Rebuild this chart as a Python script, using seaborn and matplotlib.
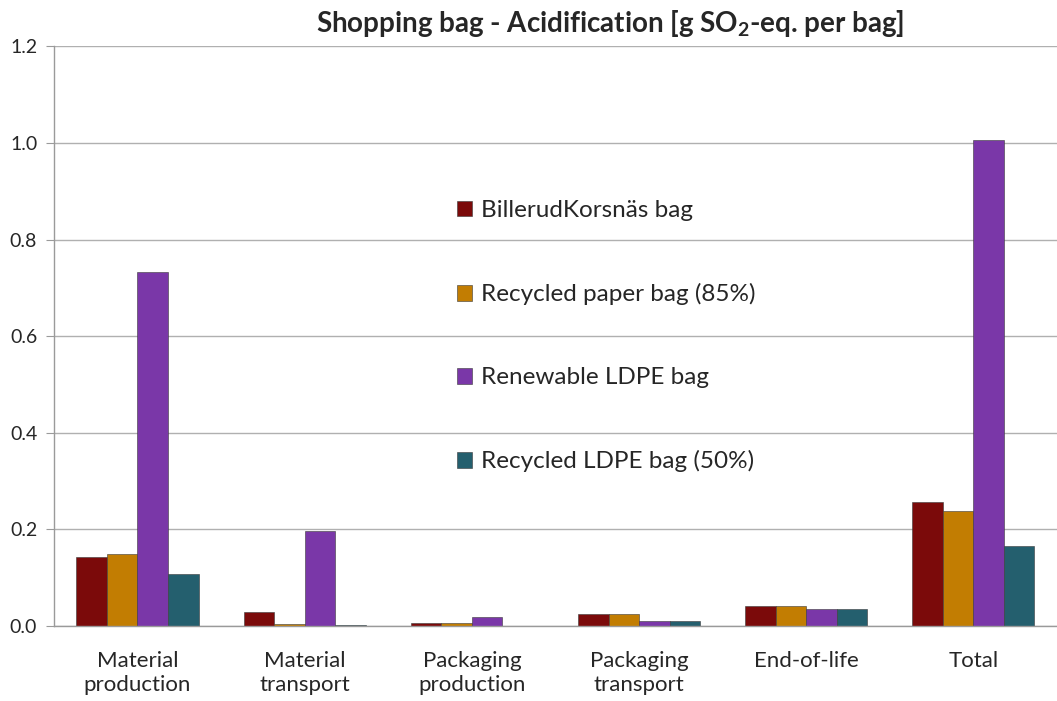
import pandas as pd
import numpy as np
import matplotlib
matplotlib.use("Agg")
import matplotlib.pyplot as plt
import seaborn as sns

stages = ["Material\nproduction", "Material\ntransport", "Packaging\nproduction",
          "Packaging\ntransport", "End-of-life", "Total"]
bags = ["BillerudKorsnäs bag", "Recycled paper bag (85%)",
        "Renewable LDPE bag", "Recycled LDPE bag (50%)"]

billerud = [0.143, 0.028, 0.006, 0.025, 0.041, 0.257]
recycled_paper = [0.148, 0.004, 0.006, 0.025, 0.041, 0.237]
renewable_ldpe = [0.733, 0.196, 0.018, 0.010, 0.035, 1.005]
recycled_ldpe = [0.108, 0.002, 0.0, 0.010, 0.035, 0.166]

colors = ["#7B0A0A", "#C27D02", "#7A37A8", "#245F6E"]

df = pd.DataFrame({
    "Stage": stages * 4,
    "Bag": np.repeat(bags, len(stages)),
    "Value": billerud + recycled_paper + renewable_ldpe + recycled_ldpe,
})

sns.set_style("white")
plt.rcParams["font.family"] = ["Lato", "DejaVu Sans"]
plt.rcParams["mathtext.default"] = "regular"

fig = plt.figure(figsize=(10.57, 7.01), dpi=100)
ax = fig.add_axes([0.051, 0.107, 0.949, 0.827])

sns.barplot(data=df, x="Stage", y="Value", hue="Bag", palette=colors,
            width=0.73, gap=0, edgecolor="#3a3a3a", linewidth=0.4,
            saturation=1, ax=ax)

ax.set_ylim(0, 1.2)
ax.set_xlim(-0.5, 5.5)
ax.set_yticks(np.arange(0, 1.21, 0.2))
ax.set_yticklabels([f"{v:.1f}" for v in np.arange(0, 1.21, 0.2)], fontsize=14)
ax.yaxis.grid(True, color="#b0b0b0", linewidth=1)
ax.set_axisbelow(True)
ax.set_xlabel("")
ax.set_ylabel("")
ax.tick_params(axis="x", which="major", length=0, labelsize=16, pad=18)
for lbl in ax.get_xticklabels():
    lbl.set_linespacing(1.25)
ax.set_xticks(np.arange(-0.5, 5.6, 1), minor=True)
ax.tick_params(axis="x", which="minor", length=7, color="#9a9a9a", direction="out")
ax.tick_params(axis="y", length=6, color="#9a9a9a", direction="out", left=True, pad=6)

for side in ["top", "right"]:
    ax.spines[side].set_visible(False)
for side in ["left", "bottom"]:
    ax.spines[side].set_color("#9a9a9a")
    ax.spines[side].set_linewidth(1)

leg = ax.legend(loc="upper left", bbox_to_anchor=(0.38, 0.772), frameon=False,
                fontsize=17.5, handlelength=0.6, handleheight=0.6,
                handletextpad=0.4, labelspacing=2.55)

fig.text(0.577, 0.966, "Shopping bag - Acidification [g SO$_2$-eq. per bag]",
         ha="center", va="center", fontsize=20, fontweight="bold")

fig.savefig("out.png", dpi=100)
